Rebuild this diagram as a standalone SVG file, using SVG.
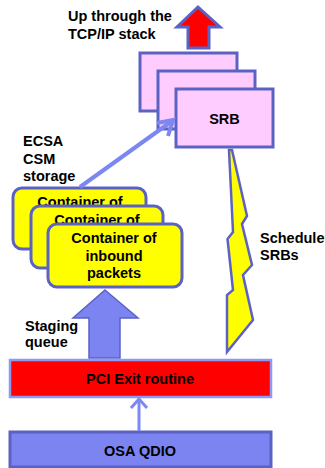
<svg xmlns="http://www.w3.org/2000/svg" width="325" height="468" viewBox="0 0 325 468">
<style>
text{font-family:"Liberation Sans",Arial,sans-serif;font-weight:bold;font-size:14.5px;fill:#000}
.c{text-anchor:middle}
.pink{fill:#ffccff;stroke:#5c62c4;stroke-width:3}
.yel{fill:#ffff00;stroke:#5c62c4;stroke-width:3}
.conn{fill:none;stroke:#7b88f2;stroke-linecap:butt}
</style>
<rect width="325" height="468" fill="#fff"/>
<g id="up-arrow">
<polygon points="198,7 220,27 209,27 209,48 188,48 188,27 177,27" fill="#ff0000" stroke="#5c62c4" stroke-width="3" stroke-linejoin="miter"/>
</g>
<g id="label-up">
<text x="68" y="21">Up through the</text>
<text x="68" y="39">TCP/IP stack</text>
</g>
<g id="srb">
<rect class="pink" x="140" y="53" width="97" height="58"/>
<rect class="pink" x="158" y="71" width="97" height="58"/>
<rect class="pink" x="176" y="89" width="97" height="58"/>
<text class="c" x="224.5" y="124">SRB</text>
</g>
<g id="label-ecsa">
<text x="23" y="146">ECSA</text>
<text x="23" y="164">CSM</text>
<text x="23" y="181">storage</text>
</g>
<g id="containers">
<rect class="yel" x="13" y="188" width="133" height="61" rx="9"/>
<text class="c" x="80" y="207">Container of</text>
<rect class="yel" x="31" y="206" width="132" height="62" rx="9"/>
<text class="c" x="97" y="225">Container of</text>
<rect class="yel" x="48" y="224" width="134" height="63" rx="9"/>
<text class="c" x="114" y="243">Container of</text>
<text class="c" x="114" y="261">inbound</text>
<text class="c" x="114" y="278">packets</text>
</g>
<g id="schedule">
<polygon points="229,150 232,150 247,216 242,224 252,265 243,275 253,320 227,352 227,295 233,290 227.5,239 233,232" fill="#ffff00" stroke="#5c62c4" stroke-width="2.5" stroke-linejoin="miter"/>
<text x="260" y="243">Schedule</text>
<text x="260" y="260">SRBs</text>
</g>
<g id="staging">
<polygon points="105,290 138,318 120,318 120,358 89,358 89,318 73,318" fill="#7b84f0" stroke="#5c62c4" stroke-width="1.5"/>
<text x="25" y="331">Staging</text>
<text x="25" y="347">queue</text>
</g>
<g id="pci">
<rect x="10" y="360" width="261" height="37" fill="#ff0000" stroke="#8d99f2" stroke-width="2.5"/>
<text class="c" x="140" y="384">PCI Exit routine</text>
</g>
<g id="osa">
<rect x="10" y="432" width="261" height="35" fill="#7b84f0" stroke="#5c62c4" stroke-width="3"/>
<text class="c" x="140" y="456">OSA QDIO</text>
</g>
<g id="connectors">
<line class="conn" x1="80" y1="187" x2="172" y2="121" stroke-width="4"/>
<polyline class="conn" points="157,123 173,120 168,136" stroke-width="4"/>
<line class="conn" x1="139" y1="431" x2="139" y2="400" stroke-width="3"/>
<polyline class="conn" points="131,408 139,399 147,408" stroke-width="3"/>
</g>
</svg>
